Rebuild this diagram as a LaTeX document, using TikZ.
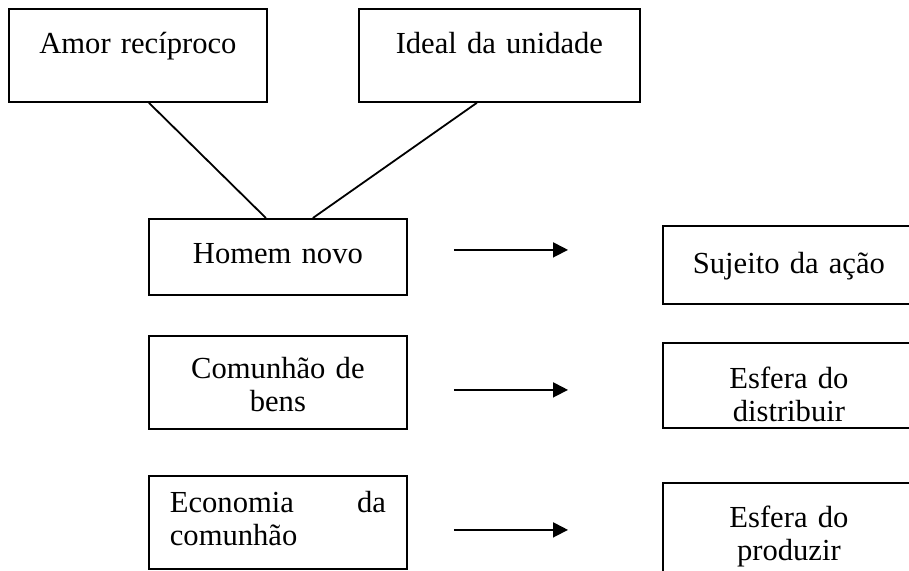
\documentclass[tikz,border=0pt]{standalone}
\usepackage{fontspec}
\setmainfont{Liberation Serif}
\usetikzlibrary{calc,arrows.meta}

\begin{document}
\begin{tikzpicture}[x=0.5pt,y=-0.5pt,
  caixa/.style={draw,line width=0.9pt,anchor=north west,inner xsep=10.5pt,inner ysep=0pt,
    align=center,font=\fontsize{15.3}{16.5}\selectfont},
  seta/.style={-{Triangle[length=7.5pt,width=7.5pt]},line width=0.9pt}]
\useasboundingbox (0,0) rectangle (909,571);
\node [caixa,text width=108pt,text height=22.5pt,text depth=24pt] (amor) at (8,8) {Amor recíproco};
\node [caixa,text width=119.5pt,text height=22.5pt,text depth=24pt] (ideal) at (358,8) {Ideal da unidade};
\node [caixa,text width=108pt,text height=22.35pt,text depth=15.65pt] (homem) at (148,218) {Homem novo};
\node [caixa,text width=108pt,text height=21.5pt,text depth=25pt] (comunhao) at (148,335) {Comunhão de\\bens};
\node [caixa,align=left,text width=108pt,text height=18.5pt,text depth=28pt] (economia) at (148,475) {Economia\hfill da\\comunhão};
\node [caixa,text width=105pt,text height=24pt,text depth=15pt] (sujeito) at (662,225) {Sujeito da ação};
\node [caixa,text width=105pt,text height=23pt,text depth=19.5pt] (distribuir) at (662,342) {Esfera do\\distribuir};
\node [caixa,text width=105pt,text height=22.5pt,text depth=24pt] (produzir) at (662,482) {Esfera do\\produzir};
\draw [line width=0.9pt] ($(amor.south)+(11,0)$) -- ($(homem.north)+(-12,0)$);
\draw [line width=0.9pt] ($(ideal.south)+(-22.5,0)$) -- ($(homem.north)+(35,0)$);
\draw [seta] ($(homem.east)+(46,-7)$) -- ($(sujeito.west)+(-94,-15)$);
\draw [seta] ($(comunhao.east)+(46,7.5)$) -- ($(distribuir.west)+(-94,4.5)$);
\draw [seta] ($(economia.east)+(46,7.5)$) -- ($(produzir.west)+(-94,0.5)$);
\end{tikzpicture}
\end{document}
